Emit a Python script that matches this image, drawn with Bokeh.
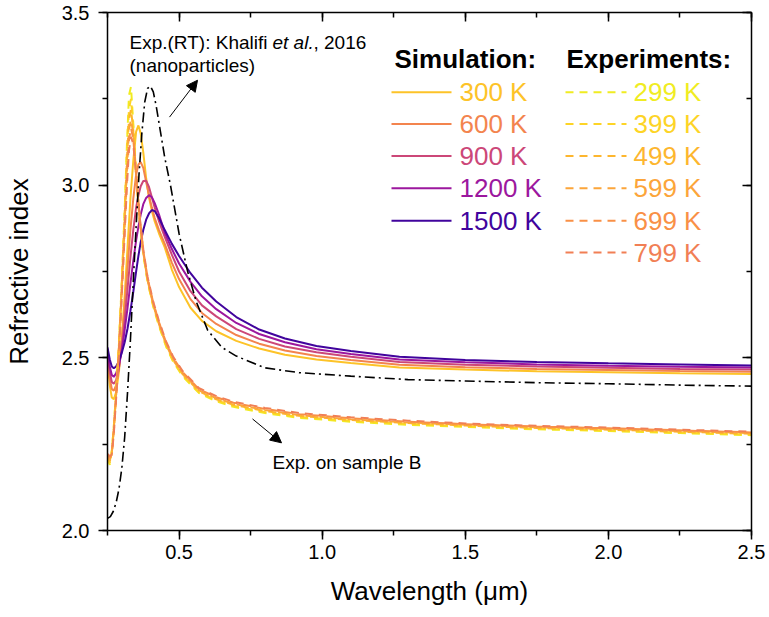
from bokeh.plotting import figure
from bokeh.models import (Range1d, SingleIntervalTicker, LinearAxis, Label, Arrow,
                          NormalHead, PrintfTickFormatter)
from bokeh.embed import file_html
from bokeh.resources import INLINE

# ---------------- data ----------------
sim_labels = ["300 K", "600 K", "900 K", "1200 K", "1500 K"]
sim_colors = ["#FDC328", "#F3844E", "#CC4778", "#9C179E", "#41049D"]

sim_x = [0.250, 0.258, 0.265, 0.272, 0.280, 0.290, 0.300, 0.310, 0.320, 0.330,
         0.340, 0.350, 0.358, 0.366, 0.375, 0.385, 0.395, 0.405, 0.415, 0.430,
         0.450, 0.475, 0.500, 0.540, 0.580, 0.630, 0.700, 0.780, 0.870, 0.980,
         1.100, 1.270, 1.500, 1.750, 2.000, 2.250, 2.500]

sim_300 = [2.490, 2.420, 2.385, 2.380, 2.400, 2.460, 2.560, 2.680, 2.820, 2.960,
           3.070, 3.155, 3.173, 3.150, 3.095, 3.020, 2.965, 2.925, 2.895, 2.860,
           2.820, 2.755, 2.705, 2.645, 2.607, 2.577, 2.549, 2.527, 2.509, 2.495,
           2.485, 2.472, 2.466, 2.461, 2.458, 2.455, 2.453]
sim_600 = [2.500, 2.440, 2.410, 2.405, 2.420, 2.470, 2.550, 2.650, 2.760, 2.870,
           2.960, 3.030, 3.060, 3.067, 3.050, 3.010, 2.970, 2.935, 2.905, 2.870,
           2.830, 2.775, 2.728, 2.670, 2.630, 2.598, 2.566, 2.541, 2.521, 2.505,
           2.494, 2.480, 2.473, 2.468, 2.465, 2.462, 2.460]
sim_900 = [2.510, 2.460, 2.430, 2.425, 2.435, 2.470, 2.530, 2.610, 2.700, 2.790,
           2.870, 2.935, 2.970, 2.997, 3.012, 3.013, 2.995, 2.965, 2.935, 2.895,
           2.850, 2.798, 2.750, 2.693, 2.652, 2.620, 2.583, 2.555, 2.533, 2.516,
           2.503, 2.488, 2.480, 2.475, 2.471, 2.468, 2.466]
sim_1200 = [2.520, 2.475, 2.450, 2.445, 2.455, 2.480, 2.520, 2.580, 2.645, 2.715,
            2.780, 2.840, 2.880, 2.915, 2.945, 2.963, 2.971, 2.965, 2.948, 2.915,
            2.862, 2.815, 2.773, 2.720, 2.678, 2.641, 2.601, 2.569, 2.545, 2.525,
            2.511, 2.495, 2.487, 2.481, 2.477, 2.474, 2.472]
sim_1500 = [2.530, 2.495, 2.475, 2.470, 2.475, 2.490, 2.515, 2.545, 2.585, 2.635,
            2.690, 2.750, 2.795, 2.835, 2.870, 2.900, 2.918, 2.928, 2.925, 2.905,
            2.870, 2.830, 2.795, 2.745, 2.703, 2.663, 2.618, 2.582, 2.556, 2.534,
            2.520, 2.503, 2.494, 2.488, 2.484, 2.481, 2.478]
sim_series = [sim_300, sim_600, sim_900, sim_1200, sim_1500]

exp_labels = ["299 K", "399 K", "499 K", "599 K", "699 K", "799 K"]
exp_colors = ["#F0EC22", "#FDD426", "#FDB62E", "#FCA53A", "#F99046", "#F17F55"]

exp_x = [0.250, 0.258, 0.265, 0.272, 0.280, 0.290, 0.300, 0.310, 0.318, 0.325,
         0.332, 0.340, 0.350, 0.362, 0.375, 0.390, 0.410, 0.430, 0.455, 0.480,
         0.513, 0.570, 0.630, 0.690, 0.800, 0.920, 1.100, 1.300, 1.500, 1.750,
         2.000, 2.250, 2.500]

exp_299 = [2.210, 2.190, 2.230, 2.300, 2.400, 2.540, 2.720, 2.930, 3.120, 3.260,
           3.285, 3.180, 3.030, 2.900, 2.800, 2.720, 2.648, 2.592, 2.532, 2.488,
           2.446, 2.398, 2.374, 2.358, 2.340, 2.326, 2.315, 2.306, 2.300, 2.293,
           2.288, 2.282, 2.276]
exp_399 = [2.212, 2.195, 2.230, 2.300, 2.400, 2.540, 2.720, 2.920, 3.100, 3.220,
           3.250, 3.170, 3.030, 2.902, 2.802, 2.722, 2.650, 2.594, 2.535, 2.490,
           2.449, 2.400, 2.377, 2.361, 2.343, 2.329, 2.318, 2.309, 2.302, 2.295,
           2.290, 2.284, 2.278]
exp_499 = [2.215, 2.200, 2.225, 2.295, 2.395, 2.535, 2.710, 2.905, 3.075, 3.190,
           3.220, 3.160, 3.030, 2.905, 2.805, 2.725, 2.653, 2.597, 2.538, 2.493,
           2.452, 2.403, 2.380, 2.364, 2.346, 2.332, 2.320, 2.311, 2.304, 2.297,
           2.292, 2.286, 2.280]
exp_599 = [2.218, 2.205, 2.225, 2.290, 2.390, 2.530, 2.700, 2.890, 3.050, 3.160,
           3.190, 3.150, 3.030, 2.908, 2.808, 2.728, 2.656, 2.600, 2.541, 2.496,
           2.455, 2.406, 2.383, 2.367, 2.349, 2.334, 2.322, 2.313, 2.306, 2.299,
           2.294, 2.288, 2.282]
exp_699 = [2.220, 2.210, 2.220, 2.285, 2.385, 2.520, 2.690, 2.875, 3.025, 3.130,
           3.165, 3.135, 3.030, 2.910, 2.811, 2.731, 2.659, 2.603, 2.544, 2.499,
           2.458, 2.409, 2.386, 2.370, 2.352, 2.337, 2.325, 2.315, 2.308, 2.301,
           2.296, 2.290, 2.284]
exp_799 = [2.222, 2.215, 2.220, 2.280, 2.380, 2.510, 2.680, 2.860, 3.000, 3.100,
           3.140, 3.120, 3.030, 2.912, 2.814, 2.734, 2.662, 2.606, 2.547, 2.502,
           2.461, 2.412, 2.389, 2.373, 2.355, 2.340, 2.328, 2.318, 2.310, 2.303,
           2.298, 2.292, 2.286]
exp_series = [exp_299, exp_399, exp_499, exp_599, exp_699, exp_799]

ref_x = [0.250, 0.260, 0.270, 0.280, 0.290, 0.300, 0.310, 0.320, 0.330, 0.340,
         0.350, 0.360, 0.370, 0.380, 0.390, 0.400, 0.410, 0.420, 0.430, 0.450,
         0.470, 0.500, 0.530, 0.560, 0.600, 0.650, 0.700, 0.800, 0.920, 1.100,
         1.300, 1.500, 1.750, 2.000, 2.250, 2.500]
ref_n = [2.035, 2.040, 2.055, 2.080, 2.120, 2.180, 2.270, 2.400, 2.550, 2.720,
         2.880, 3.030, 3.150, 3.240, 3.280, 3.287, 3.270, 3.230, 3.180, 3.080,
         3.000, 2.860, 2.750, 2.663, 2.580, 2.530, 2.505, 2.471, 2.457, 2.447,
         2.437, 2.433, 2.428, 2.425, 2.421, 2.418]

x_ticks_interval = 0.5
y_ticks_interval = 0.5

# ---------------- figure ----------------
FONT = "Liberation Sans"
X0, X1, Y0, Y1 = 0.25, 2.5, 2.0, 3.5
# frame (figure pixels)
BL, BT = 103, 12
FW, FH = 644, 518
BR, BB = 15, 80

p = figure(frame_width=FW, frame_height=FH, output_backend="svg", toolbar_location=None,
           x_range=Range1d(X0, X1), y_range=Range1d(Y0, Y1),
           x_axis_label="Wavelength (\u03bcm)", y_axis_label="Refractive index",
           min_border_left=BL, min_border_right=BR,
           min_border_top=BT, min_border_bottom=BB)
p.xgrid.visible = False
p.ygrid.visible = False
p.outline_line_color = None
p.background_fill_color = "white"
p.border_fill_color = "white"

p.xaxis.ticker = SingleIntervalTicker(interval=x_ticks_interval, num_minor_ticks=2)
p.yaxis.ticker = SingleIntervalTicker(interval=y_ticks_interval, num_minor_ticks=2)
p.xaxis.formatter = PrintfTickFormatter(format="%.1f")
p.yaxis.formatter = PrintfTickFormatter(format="%.1f")

for ax in (p.xaxis[0], p.yaxis[0]):
    ax.axis_line_width = 1.5
    ax.axis_line_color = "black"
    ax.major_tick_line_width = 1.5
    ax.minor_tick_line_width = 1.5
    ax.major_tick_out = 9
    ax.major_tick_in = 0
    ax.minor_tick_out = 5
    ax.minor_tick_in = 0
    ax.major_label_text_font = FONT
    ax.major_label_text_font_size = "20px"
    ax.major_label_text_color = "black"
    ax.axis_label_text_font = FONT
    ax.axis_label_text_font_size = "26px"
    ax.axis_label_text_font_style = "normal"
    ax.axis_label_text_color = "black"
p.xaxis.major_label_standoff = 5
p.yaxis.major_label_standoff = 9
p.xaxis.axis_label_standoff = 14
p.yaxis.axis_label_standoff = 25

top = LinearAxis(ticker=SingleIntervalTicker(interval=x_ticks_interval, num_minor_ticks=2))
right = LinearAxis(ticker=SingleIntervalTicker(interval=y_ticks_interval, num_minor_ticks=2))
for ax in (top, right):
    ax.axis_line_width = 1.5
    ax.major_tick_line_width = 1.5
    ax.minor_tick_line_width = 1.5
    ax.major_tick_in = 9
    ax.major_tick_out = 0
    ax.minor_tick_in = 5
    ax.minor_tick_out = 0
    ax.major_label_text_font_size = "1px"
    ax.major_label_text_color = None
    ax.major_label_standoff = 0
    ax.axis_label = None
p.add_layout(top, "above")
p.add_layout(right, "right")

# ---------------- curves ----------------
for ys, c in zip(sim_series, sim_colors):
    p.line(sim_x, ys, line_color=c, line_width=2)
for ys, c in zip(exp_series, exp_colors):
    p.line(exp_x, ys, line_color=c, line_width=2, line_dash="8 6")
p.line(ref_x, ref_n, line_color="black", line_width=1.6, line_dash="10 4 2 4")

# ---------------- annotations ----------------
# positions (page pixels), reference frame:
RL, RR, RT, RB = 108, 752, 10, 530


def dx(px):
    return X0 + (px - RL) * (X1 - X0) / (RR - RL)


def dy(py):
    return Y0 + (RB - py) * (Y1 - Y0) / (RB - RT)


def label(px, py, text, size, color="black", style="normal"):
    p.add_layout(Label(x=dx(px), y=dy(py), text=text, text_font=FONT,
                       text_font_size=size, text_color=color,
                       text_font_style=style, text_baseline="middle",
                       text_align="left"))


label(130, 40, "Exp.(RT): Khalifi ", "19px")
label(273, 40, "et al.", "19px", style="italic")
label(314, 40, ", 2016", "19px")
label(130, 63, "(nanoparticles)", "19px")
label(273, 462, "Exp. on sample B", "19px")

p.add_layout(Arrow(end=NormalHead(size=11, fill_color="black", line_color="black"),
                   x_start=dx(170), y_start=dy(115), x_end=dx(198), y_end=dy(78),
                   line_color="black", line_width=1))
p.add_layout(Arrow(end=NormalHead(size=11, fill_color="black", line_color="black"),
                   x_start=dx(253), y_start=dy(418), x_end=dx(282), y_end=dy(442),
                   line_color="black", line_width=1))

# legend (custom, two columns)
label(395, 57, "Simulation:", "26px", style="bold")
label(567, 57, "Experiments:", "26px", style="bold")
row_y = [90, 122, 154, 186.5, 219, 251]
for i, (t, c) in enumerate(zip(sim_labels, sim_colors)):
    p.add_layout(Arrow(end=None, x_start=dx(392), y_start=dy(row_y[i]),
                       x_end=dx(452), y_end=dy(row_y[i]), line_color=c, line_width=2))
    label(460, row_y[i], t, "26px", color=c)
for i, (t, c) in enumerate(zip(exp_labels, exp_colors)):
    p.add_layout(Arrow(end=None, x_start=dx(566), y_start=dy(row_y[i]),
                       x_end=dx(627), y_end=dy(row_y[i]), line_color=c, line_width=2,
                       line_dash="8 6"))
    label(634, row_y[i], t, "26px", color=c)

open("out.html", "w").write(file_html(p, INLINE))
